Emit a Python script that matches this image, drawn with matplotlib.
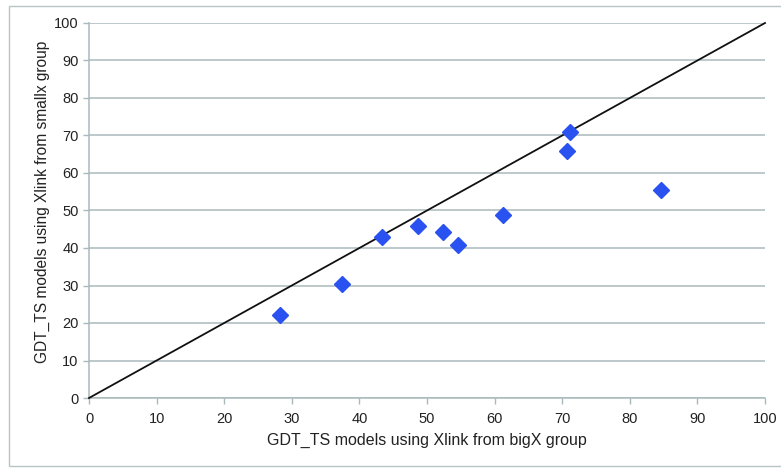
import matplotlib
matplotlib.use("Agg")
import matplotlib.pyplot as plt
from matplotlib.patches import Rectangle

big_x = [28.3, 37.4, 43.4, 48.7, 52.3, 54.6, 61.2, 70.7, 71.2, 84.6]
small_x = [22.2, 30.4, 43.0, 45.8, 44.2, 40.8, 48.8, 65.8, 70.9, 55.4]
diag = [0, 100]
ticks = list(range(0, 101, 10))

plt.rcParams['font.family'] = ['Liberation Sans', 'DejaVu Sans']
fig = plt.figure(figsize=(7.81, 4.68), dpi=100)
fig.patches.append(Rectangle((9/781, 1 - 466/468), 1.0, 460/468, transform=fig.transFigure,
                             fill=False, edgecolor='#b8c4c6', linewidth=1.0))
ax = fig.add_axes([89/781, 1 - 398/468, (765 - 89)/781, (398 - 23)/468])

grid_c = '#a9b9bc'
ax.set_xlim(0, 100)
ax.set_ylim(0, 100)
ax.set_xticks(ticks)
ax.set_yticks(ticks)
ax.yaxis.grid(True, color=grid_c, linewidth=1.1)
ax.set_axisbelow(True)
for s in ['top', 'right']:
    ax.spines[s].set_visible(False)
for s in ['left', 'bottom']:
    ax.spines[s].set_color(grid_c)
    ax.spines[s].set_linewidth(1.1)
ax.tick_params(axis='both', colors=grid_c, length=4, width=1.0, labelcolor='#222222', labelsize=10.5)
ax.tick_params(axis='x', pad=6)

ax.plot(diag, diag, color='#111111', linewidth=1.3, zorder=3, clip_on=False)
ax.plot(big_x, small_x, linestyle='none', marker='D', markersize=8, color='#2a52f0',
        markeredgecolor='#2a52f0', zorder=4)

ax.set_xlabel('GDT_TS models using Xlink from bigX group', fontsize=11.5, color='#222222', labelpad=5)
ax.set_ylabel('GDT_TS models using Xlink from smallx group', fontsize=11.2, color='#222222')
ax.yaxis.set_label_coords(-0.058, 0.523)

fig.savefig('out.png', dpi=100)
